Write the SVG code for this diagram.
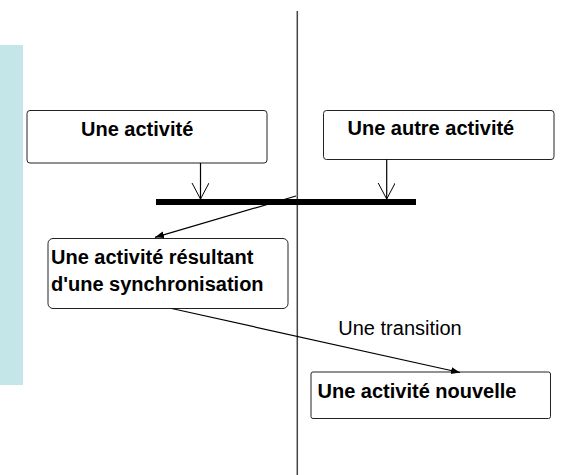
<svg xmlns="http://www.w3.org/2000/svg" width="565" height="475" viewBox="0 0 565 475">
<defs>
<marker id="open" markerWidth="20" markerHeight="20" refX="16" refY="8.5" orient="auto" markerUnits="userSpaceOnUse">
<path d="M0,0 L16,8.5 L0,17" fill="none" stroke="#000" stroke-width="1"/>
</marker>
<marker id="filled" markerWidth="12" markerHeight="10" refX="9" refY="3.5" orient="auto" markerUnits="userSpaceOnUse">
<path d="M0,0 L9,3.5 L0,7 Z" fill="#000"/>
</marker>
<style>
.box{fill:#fff;stroke:#222;stroke-width:1}
.t{font-family:"Liberation Sans",Arial,sans-serif;font-size:20px;font-weight:bold;fill:#000}
.lbl{font-family:"Liberation Sans",Arial,sans-serif;font-size:20px;fill:#000}
.c{fill:none;stroke:#000;stroke-width:1.2}
</style>
</defs>
<rect x="0" y="45" width="23" height="340" fill="#c5e6e8"/>
<line x1="297.3" y1="11" x2="297.3" y2="475" stroke="#444" stroke-width="1.5"/>
<g id="node-activite">
<rect class="box" x="27" y="110.5" width="240" height="52.5" rx="3"/>
<text class="t" x="81" y="135.5">Une activité</text>
</g>
<g id="node-autre">
<rect class="box" x="323.5" y="110.5" width="230.5" height="49" rx="3"/>
<text class="t" x="347.5" y="135">Une autre activité</text>
</g>
<g id="node-sync-bar">
<rect x="156" y="199" width="260" height="6" fill="#000"/>
</g>
<g id="node-resultant">
<rect class="box" x="48" y="238.5" width="240" height="70" rx="5"/>
<text class="t" x="51" y="264">Une activité résultant</text>
<text class="t" x="51" y="291">d'une synchronisation</text>
</g>
<g id="node-nouvelle">
<rect class="box" x="311" y="372" width="239.5" height="46.5" rx="2"/>
<text class="t" x="317.5" y="397.5">Une activité nouvelle</text>
</g>
<g id="connectors">
<line class="c" x1="200.5" y1="163" x2="200.5" y2="199" marker-end="url(#open)"/>
<line class="c" x1="386.7" y1="159.5" x2="386.7" y2="199" marker-end="url(#open)"/>
<line class="c" x1="296" y1="196" x2="155" y2="237.3" marker-end="url(#filled)"/>
<line class="c" x1="171.7" y1="308.5" x2="460" y2="372.5" marker-end="url(#filled)"/>
<text class="lbl" x="338.3" y="335">Une transition</text>
</g>
</svg>
